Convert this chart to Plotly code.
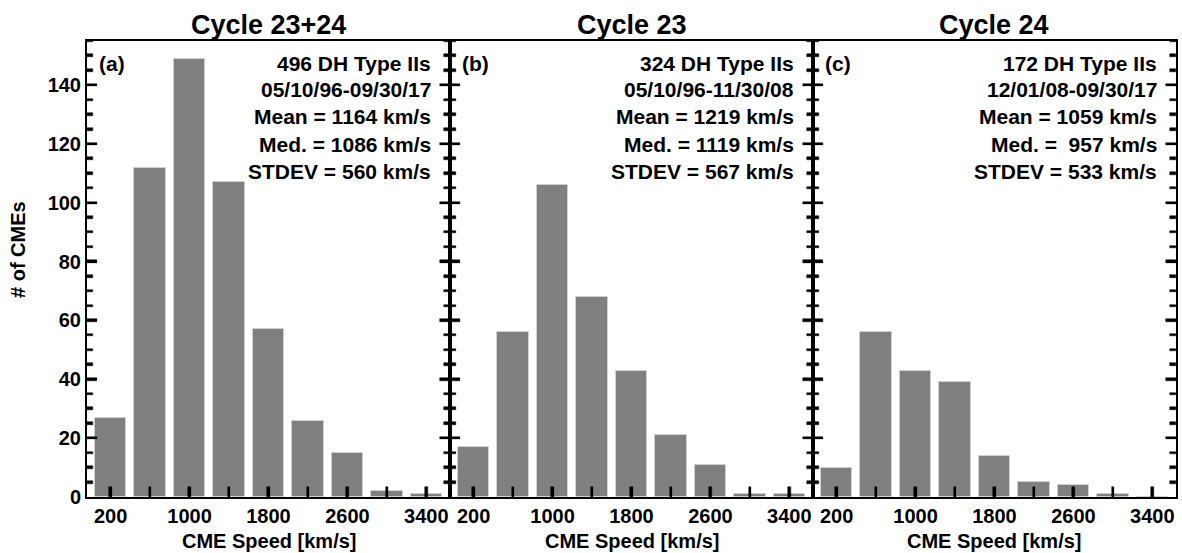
import plotly.graph_objects as go

# ---- data ----
speed_bins = [200, 600, 1000, 1400, 1800, 2200, 2600, 3000, 3400]
counts_all = [27, 112, 149, 107, 57, 26, 15, 2, 1]
counts_c23 = [17, 56, 106, 68, 43, 21, 11, 1, 1]
counts_c24 = [10, 56, 43, 39, 14, 5, 4, 1, 0]

panel_titles = ["Cycle 23+24", "Cycle 23", "Cycle 24"]
panel_letters = ["(a)", "(b)", "(c)"]
panel_stats = [
    ["496 DH Type IIs", "05/10/96-09/30/17", "Mean = 1164 km/s", "Med. = 1086 km/s", "STDEV = 560 km/s"],
    ["324 DH Type IIs", "05/10/96-11/30/08", "Mean = 1219 km/s", "Med. = 1119 km/s", "STDEV = 567 km/s"],
    ["172 DH Type IIs", "12/01/08-09/30/17", "Mean = 1059 km/s", "Med. =  957 km/s", "STDEV = 533 km/s"],
]
x_tick_vals = [200, 600, 1000, 1400, 1800, 2200, 2600, 3000, 3400]
x_tick_text = ["200", "", "1000", "", "1800", "", "2600", "", "3400"]
y_tick_vals = [0, 20, 40, 60, 80, 100, 120, 140]
y_minor_step = 5

series = [counts_all, counts_c23, counts_c24]

W, H = 1182, 553
ML, MR, MT, MB = 87, 6, 41, 56
PW = W - ML - MR
PH = H - MT - MB
X_RANGE = [-40, 3640]
Y_RANGE = [0, 155]

FONT = "Liberation Sans, Arial, Helvetica, sans-serif"

panel_px = PW / 3
x_per_px = (X_RANGE[1] - X_RANGE[0]) / panel_px
y_per_px = (Y_RANGE[1] - Y_RANGE[0]) / PH
TICK_T = 2.5  # tick thickness in px


def b(s):
    return f"<b>{s}</b>" if s else ""


fig = go.Figure()
domains = [[0, 1/3], [1/3, 2/3], [2/3, 1]]

for i, vals in enumerate(series):
    xa = "x" if i == 0 else f"x{i+1}"
    ya = "y" if i == 0 else f"y{i+1}"
    fig.add_trace(go.Bar(
        x=speed_bins, y=vals, width=320,
        marker=dict(color="#808080", line=dict(color="#d0d0d0", width=1)),
        xaxis=xa, yaxis=ya, showlegend=False, hoverinfo="x+y",
    ))

    # tick marks (inside the frame) drawn as thin filled rectangles
    tk_x, tk_w, tk_base, tk_h = [], [], [], []
    for v in x_tick_vals:
        tk_x.append(v)
        tk_w.append(TICK_T * x_per_px)
        tk_base.append(Y_RANGE[0])
        tk_h.append(10 * y_per_px)
    yv = Y_RANGE[0] + y_minor_step
    while yv <= Y_RANGE[1]:
        ln = (10 if yv in y_tick_vals else 6) * x_per_px
        for cx in (X_RANGE[0] + ln / 2, X_RANGE[1] - ln / 2):
            tk_x.append(cx)
            tk_w.append(ln)
            tk_base.append(yv - TICK_T / 2 * y_per_px)
            tk_h.append(TICK_T * y_per_px)
        yv += y_minor_step
    fig.add_trace(go.Bar(
        x=tk_x, y=tk_h, base=tk_base, width=tk_w,
        marker=dict(color="black", line=dict(color="black", width=0.5)),
        xaxis=xa, yaxis=ya, showlegend=False, hoverinfo="skip",
    ))

    xkey = "xaxis" if i == 0 else f"xaxis{i+1}"
    ykey = "yaxis" if i == 0 else f"yaxis{i+1}"
    fig.update_layout({
        xkey: dict(
            domain=domains[i], anchor=ya, range=X_RANGE,
            tickmode="array", tickvals=x_tick_vals, ticktext=[b(t) for t in x_tick_text],
            ticks="inside", ticklen=10, tickwidth=2, tickcolor="#000000",
            showline=True, linecolor="black", linewidth=2, mirror=True,
            showgrid=False, zeroline=False, automargin=False,
            tickfont=dict(family=FONT, size=20, color="black"),
        ),
        ykey: dict(
            domain=[0, 1], anchor=xa, range=Y_RANGE,
            tickmode="linear", tick0=0, dtick=20,
            showticklabels=(i == 0),
            ticks="inside", ticklen=10, tickwidth=2, tickcolor="#000000",
            showline=True, linecolor="black", linewidth=2, mirror="allticks",
            showgrid=False, zeroline=False, automargin=False,
            tickfont=dict(family=FONT, size=20, color="black", weight="bold"),
        ),
    })

annotations = []
for i in range(3):
    x0 = domains[i][0]
    x1 = domains[i][1]
    annotations.append(dict(
        text=b(panel_titles[i]), xref="paper", yref="paper",
        x=(x0 + x1) / 2, y=1 + (MT - 25) / PH, xanchor="center", yanchor="middle",
        showarrow=False,
        font=dict(family=FONT, size=27, color="black"),
    ))
    annotations.append(dict(
        text=b(panel_letters[i]), xref="paper", yref="paper",
        x=x0 + 10 / PW, y=1 - (63 - MT) / PH, xanchor="left", yanchor="middle",
        showarrow=False,
        font=dict(family=FONT, size=21, color="black"),
    ))
    for j, line in enumerate(panel_stats[i]):
        ypix = 63 + 27 * j
        annotations.append(dict(
            text=b(line.replace("  ", "&nbsp; ")), xref="paper", yref="paper",
            x=x1 - 17 / PW, y=1 - (ypix - MT) / PH, xanchor="right", yanchor="middle",
            showarrow=False,
            font=dict(family=FONT, size=21, color="black"),
        ))
    annotations.append(dict(
        text=b("CME Speed [km/s]"), xref="paper", yref="paper",
        x=(x0 + x1) / 2, y=-(541 - (MT + PH)) / PH, xanchor="center", yanchor="middle",
        showarrow=False,
        font=dict(family=FONT, size=20, color="black"),
    ))

annotations.append(dict(
    text=b("# of CMEs"), xref="paper", yref="paper",
    x=-(ML - 18) / PW, y=1 - (250 - MT) / PH, xanchor="center", yanchor="middle",
    textangle=-90, showarrow=False,
    font=dict(family=FONT, size=20, color="black"),
))

fig.update_layout(
    width=W, height=H,
    margin=dict(l=ML, r=MR, t=MT, b=MB, autoexpand=False),
    paper_bgcolor="white", plot_bgcolor="white",
    annotations=annotations,
    barmode="overlay",
    bargap=0,
)

fig.write_html(
    "out.html",
    config={"displayModeBar": False},
    post_script="document.body.style.margin='0';document.body.style.overflow='hidden';",
)
